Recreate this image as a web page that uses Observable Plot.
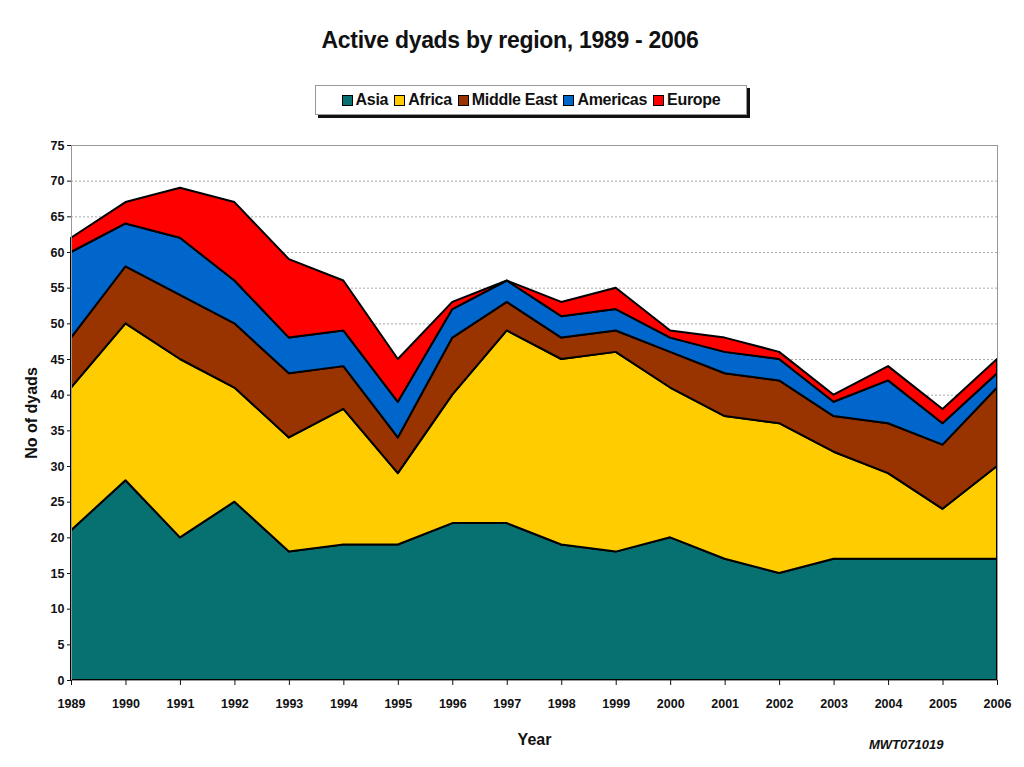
<!DOCTYPE html>
<html><head><meta charset="utf-8">
<script src="https://cdn.jsdelivr.net/npm/d3@7"></script>
<script src="https://cdn.jsdelivr.net/npm/@observablehq/plot@0.6"></script>
<style>
body{margin:0;background:#fff;font-family:"Liberation Sans",Arial,sans-serif;}
#wrap{position:relative;width:1024px;height:767px;overflow:hidden;}
#chart{position:absolute;left:0;top:0;}
#title{position:absolute;top:27px;left:0;width:1020px;text-align:center;font-weight:bold;font-size:23px;color:#111;letter-spacing:-0.3px;}
#legend{position:absolute;left:315px;top:85px;width:430px;height:28px;border:1px solid #999;box-shadow:3px 3px 0 #111;background:#fff;display:flex;align-items:center;justify-content:center;gap:6px;font-weight:bold;font-size:16px;color:#111;letter-spacing:-0.3px;}
#legend .it{display:flex;align-items:center;gap:3px;}
#legend .sw{width:9px;height:9px;border:1px solid #000;display:inline-block;}
#code{position:absolute;left:869px;top:737px;font-style:italic;font-weight:bold;font-size:13px;color:#111;}
</style></head>
<body>
<div id="wrap">
<div id="chart"></div>
<div id="title">Active dyads by region, 1989 - 2006</div>
<div id="legend"></div>
<div id="code">MWT071019</div>
</div>
<script>
const years = [1989,1990,1991,1992,1993,1994,1995,1996,1997,1998,1999,2000,2001,2002,2003,2004,2005,2006];
const regions = ["Asia","Africa","Middle East","Americas","Europe"];
const colors = ["#077070","#FFCC00","#993300","#0066CC","#FF0000"];
const asia       = [21,28,20,25,18,19,19,22,22,19,18,20,17,15,17,17,17,17];
const africa     = [20,22,25,16,16,19,10,18,27,26,28,21,20,21,15,12,7,13];
const middleEast = [7,8,9,9,9,6,5,8,4,3,3,5,6,6,5,7,9,11];
const americas   = [12,6,8,6,5,5,5,4,3,3,3,2,3,3,2,6,3,2];
const europe     = [2,3,7,11,11,7,6,1,0,2,3,1,2,1,1,2,2,2];
const yTicks = [0,5,10,15,20,25,30,35,40,45,50,55,60,65,70,75];

const series = [asia, africa, middleEast, americas, europe];
const data = [];
regions.forEach((r, i) => years.forEach((y, j) => data.push({year: y, region: r, value: series[i][j]})));

const plot = Plot.plot({
  width: 1024, height: 767,
  marginTop: 145, marginBottom: 87, marginLeft: 71, marginRight: 27,
  style: {fontFamily: "Liberation Sans, Arial, sans-serif", fontWeight: "bold", fontSize: "12px", color: "#111", background: "transparent"},
  x: {domain: [1989, 2006]},
  y: {domain: [0, 75]},
  color: {domain: regions, range: colors},
  marks: [
    Plot.gridY(yTicks.filter(d => d > 0 && d < 75), {stroke: "#aaa", strokeOpacity: 1, strokeDasharray: "2,2"}),
    Plot.areaY(data, {x: "year", y: "value", fill: "region", stroke: "#000", strokeWidth: 2, strokeLinejoin: "round", order: regions}),
    Plot.frame({stroke: "#999"}),
    Plot.axisX({ticks: years, tickFormat: d => String(d), tickSize: 5, tickPadding: 14, fontSize: 12.5, label: "Year", labelAnchor: "center", labelArrow: "none", labelOffset: 64}),
    Plot.axisY({ticks: yTicks, tickSize: 4, tickPadding: 3, fontSize: 12.5, label: "No of dyads", labelAnchor: "center", labelArrow: "none", labelOffset: 46})
  ]
});
plot.querySelectorAll("g[aria-label='x-axis label'] text, g[aria-label='y-axis label'] text").forEach(t => t.setAttribute("font-size", "16"));
document.getElementById("chart").appendChild(plot);

const lg = document.getElementById("legend");
regions.forEach((r, i) => {
  const it = document.createElement("span"); it.className = "it";
  const sw = document.createElement("span"); sw.className = "sw"; sw.style.background = colors[i];
  it.appendChild(sw); it.appendChild(document.createTextNode(r));
  lg.appendChild(it);
});
</script>
</body></html>
